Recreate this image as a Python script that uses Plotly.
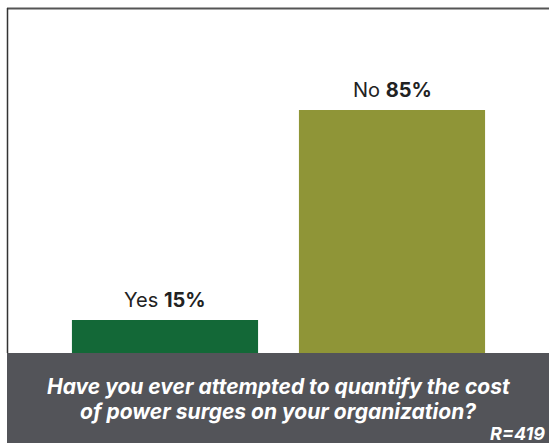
import plotly.graph_objects as go

# Survey answers
categories = ["Yes", "No"]
shares = [15, 85]
bar_colors = ["#136837", "#8F9537"]
question_lines = ["Have you ever attempted to quantify the cost",
                  "of power surges on your organization?"]
respondents = "R=419"

W, H = 549, 443


def px_x(p):
    return p / W


def px_y(p):
    return 1 - p / H


fig = go.Figure()
fig.add_trace(go.Bar(
    x=list(range(len(categories))),
    y=shares,
    marker=dict(color=bar_colors, line=dict(width=0)),
    width=0.82,
    hoverinfo="skip",
))

# value labels above each bar
for i, (cat, val) in enumerate(zip(categories, shares)):
    fig.add_annotation(
        x=i, y=val, xref="x", yref="y",
        text=f"{cat} <b>{val}%</b>",
        showarrow=False, yanchor="bottom", yshift=6,
        font=dict(family="Inter", size=20, color="#222222"),
    )

shapes = [
    # footer band
    dict(type="rect", xref="paper", yref="paper",
         x0=px_x(7), x1=1, y0=0, y1=px_y(353),
         fillcolor="#535459", line=dict(width=0), layer="above"),
    # frame: top and left edges
    dict(type="line", xref="paper", yref="paper",
         x0=px_x(7), x1=1, y0=px_y(8.5), y1=px_y(8.5),
         line=dict(color="#555555", width=2), layer="above"),
    dict(type="line", xref="paper", yref="paper",
         x0=px_x(7.5), x1=px_x(7.5), y0=px_y(353), y1=px_y(8),
         line=dict(color="#333333", width=1.5), layer="above"),
]

# question text, one annotation per line
for line, cy in zip(question_lines, [386, 411]):
    fig.add_annotation(
        x=px_x(278.5), y=px_y(cy), xref="paper", yref="paper",
        text=f"<b><i>{line}</i></b>",
        showarrow=False, xanchor="center", yanchor="middle",
        font=dict(family="Inter", size=21, color="#ffffff"),
    )
fig.add_annotation(
    x=px_x(488), y=px_y(433), xref="paper", yref="paper",
    text=f"<b><i>{respondents}</i></b>",
    showarrow=False, xanchor="left", yanchor="middle",
    font=dict(family="Inter", size=18, color="#ffffff"),
)

fig.update_layout(
    width=W, height=H,
    margin=dict(l=0, r=0, t=0, b=0),
    paper_bgcolor="white", plot_bgcolor="white",
    showlegend=False,
    shapes=shapes,
    xaxis=dict(range=[-165 / 227, (W - 165) / 227], visible=False, fixedrange=True),
    yaxis=dict(range=[-(H - 365) / 3, 365 / 3], visible=False, fixedrange=True),
)

fig.write_html("out.html", config={"displayModeBar": False})
